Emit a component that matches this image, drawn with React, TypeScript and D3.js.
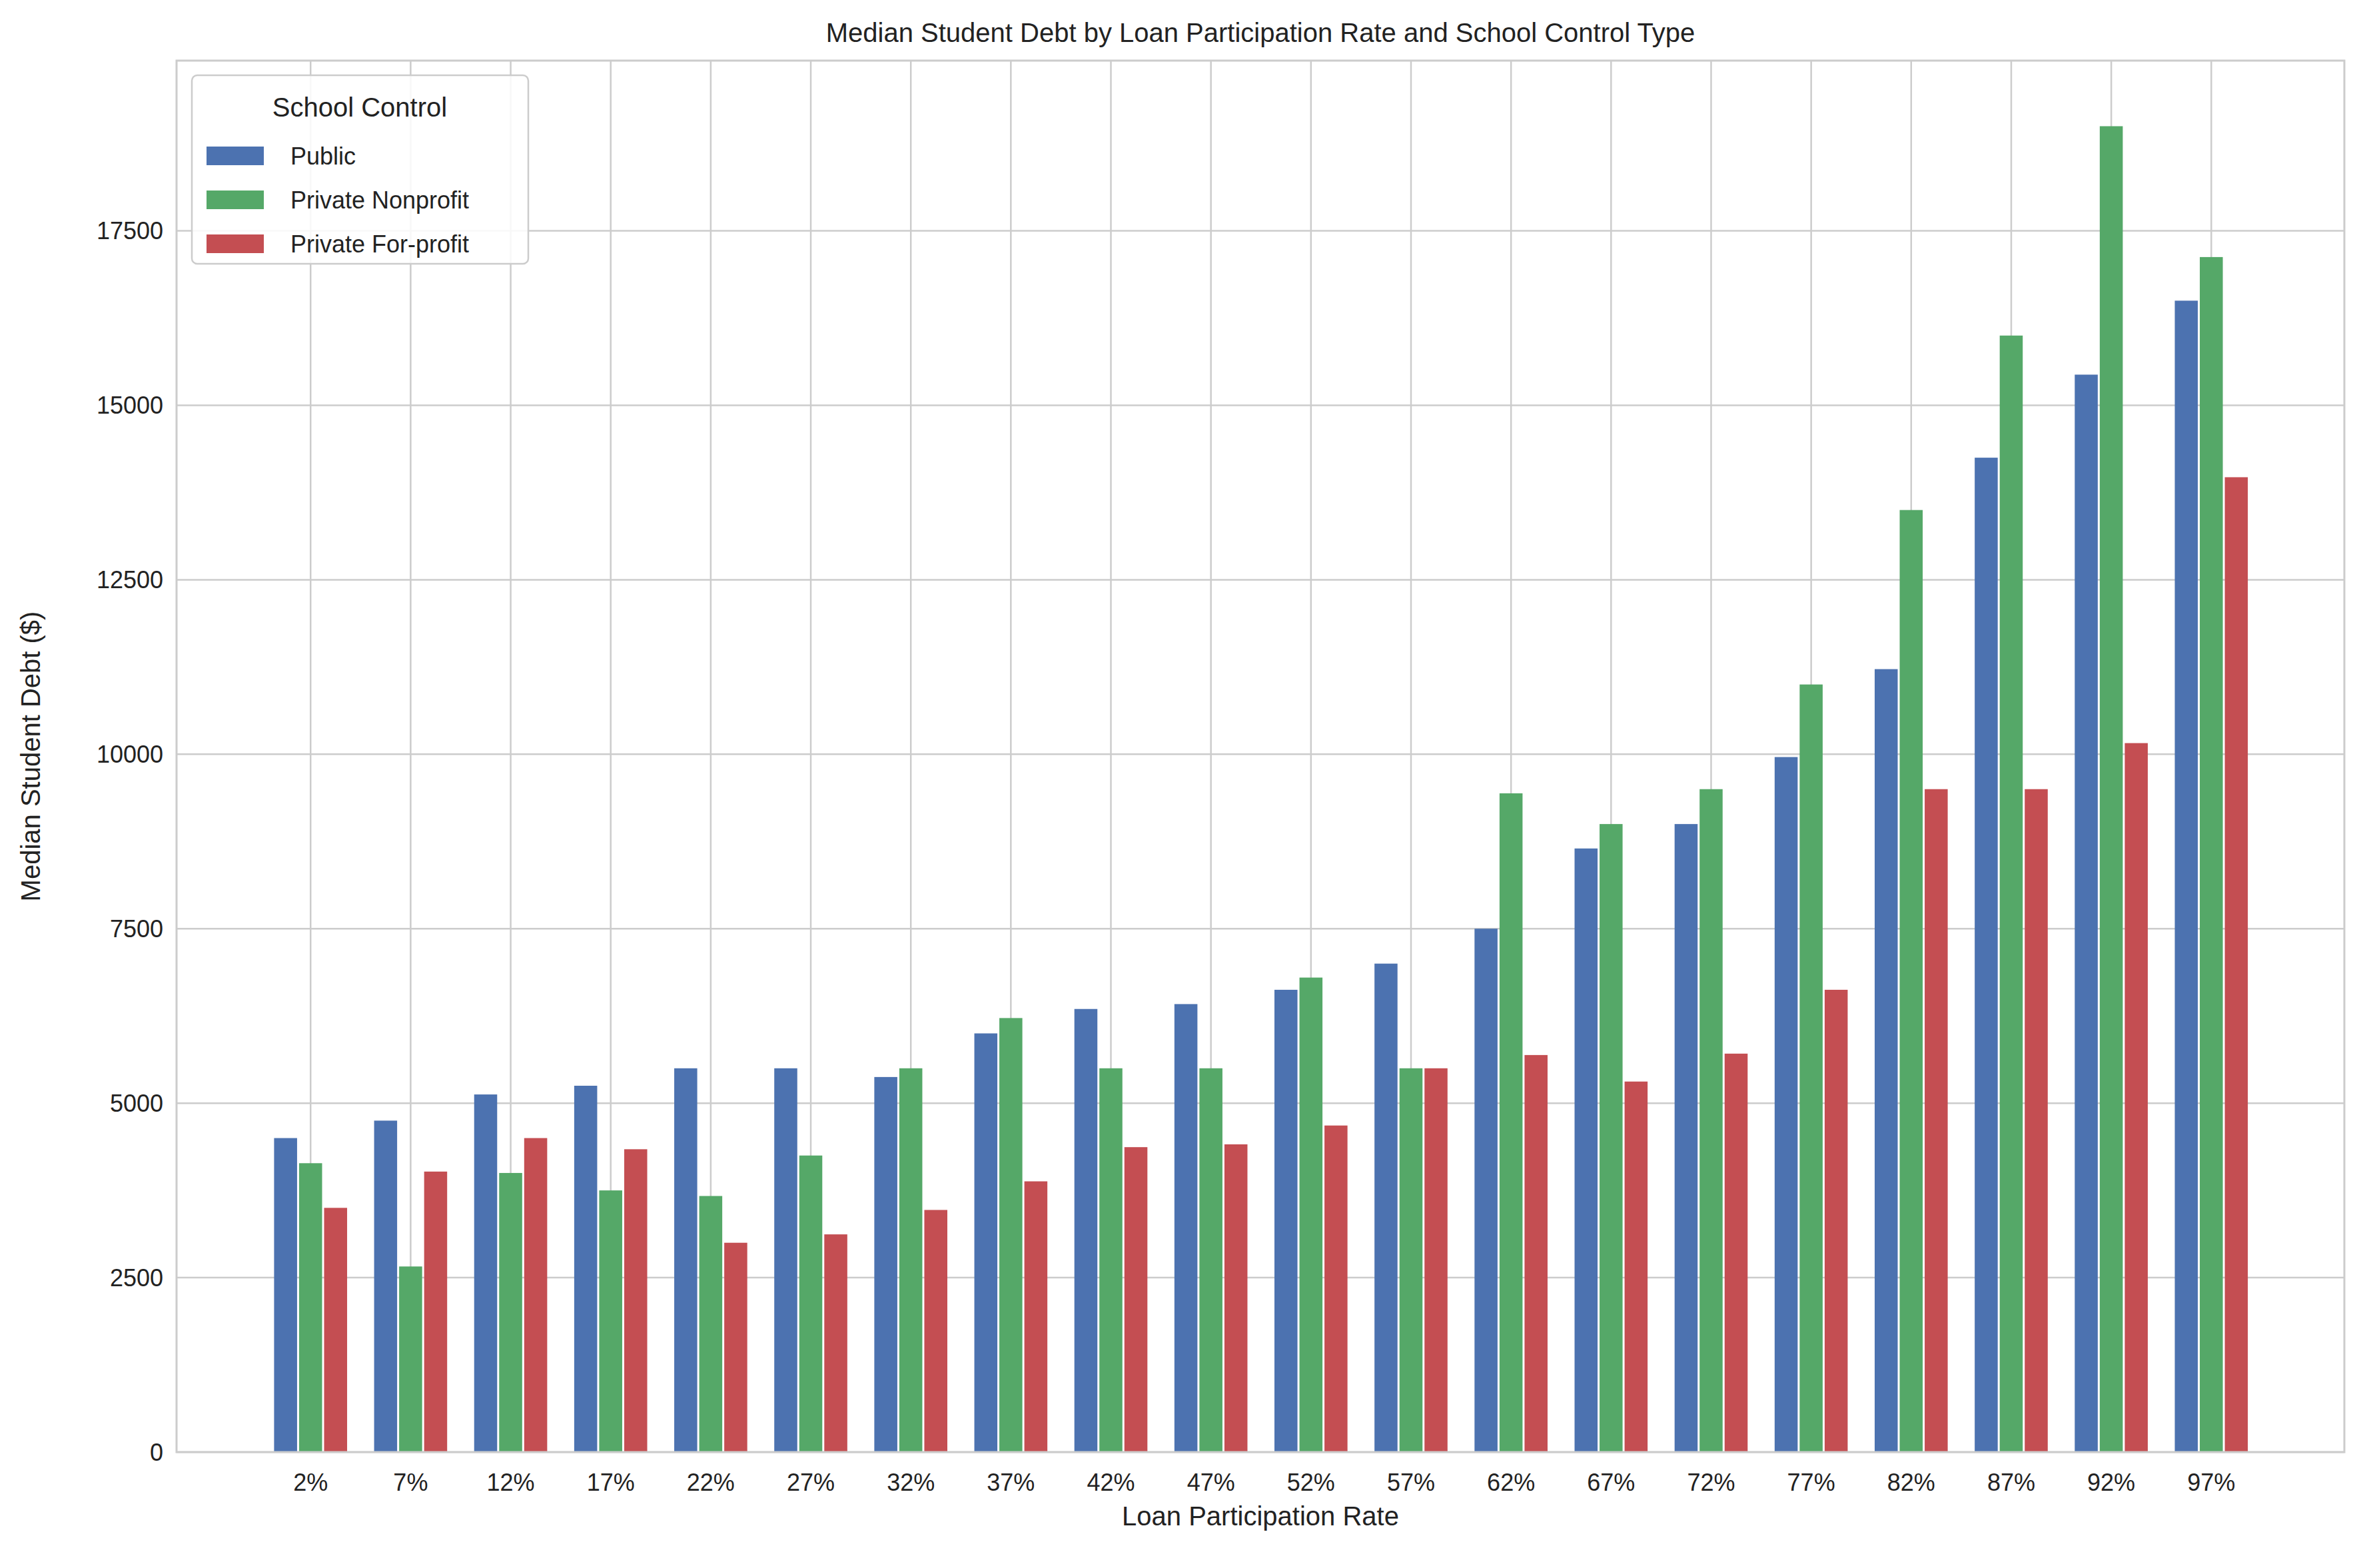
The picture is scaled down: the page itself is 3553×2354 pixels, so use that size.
import * as d3 from "d3";

const categories = ["2%","7%","12%","17%","22%","27%","32%","37%","42%","47%","52%","57%","62%","67%","72%","77%","82%","87%","92%","97%"];
const publicVals = [4500,4750,5125,5250,5500,5500,5375,6000,6350,6420,6625,7000,7500,8650,9000,9960,11220,14250,15440,16500];
const nonprofitVals = [4140,2660,4000,3750,3670,4250,5500,6220,5500,5500,6800,5500,9440,9000,9500,11000,13500,16000,19000,17125];
const forprofitVals = [3500,4020,4500,4340,3000,3120,3470,3880,4370,4410,4680,5500,5690,5310,5710,6625,9500,9500,10160,13970];
const seriesNames = ["Public","Private Nonprofit","Private For-profit"];
const colors = ["#4c72b0","#55a868","#c44e52"];
const yTicks = [0,2500,5000,7500,10000,12500,15000,17500];

const W = 3553, H = 2354;
const m = { left: 265, right: 3519, top: 91, bottom: 2180 };
const font = "'Liberation Sans', Arial, sans-serif";

export default function App() {
  const series = [publicVals, nonprofitVals, forprofitVals];
  const x = d3.scaleLinear().domain([-1.34, 20.33]).range([m.left, m.right]);
  const y = d3.scaleLinear().domain([0, 19940]).range([m.bottom, m.top]);
  const bw = 0.25;
  const px = x(bw) - x(0);
  return (
    <svg width={W} height={H} style={{ position: "absolute", left: 0, top: 0, background: "#fff" }} fontFamily={font}>
      {categories.map((_, i) => (
        <line key={"gx" + i} x1={x(i)} x2={x(i)} y1={m.top} y2={m.bottom} stroke="#cccccc" strokeWidth={2.5} />
      ))}
      {yTicks.map((t) => (
        <line key={"gy" + t} x1={m.left} x2={m.right} y1={y(t)} y2={y(t)} stroke="#cccccc" strokeWidth={2.5} />
      ))}
      {series.map((vals, s) =>
        vals.map((v, i) => {
          const cx = x(i + (s - 1) * bw);
          return (
            <rect key={s + "-" + i} x={cx - px / 2 + 1.5} width={px - 3} y={y(v)} height={y(0) - y(v)} fill={colors[s]} />
          );
        })
      )}
      <rect x={m.left} y={m.top} width={m.right - m.left} height={m.bottom - m.top} fill="none" stroke="#cccccc" strokeWidth={3} />
      {yTicks.map((t) => (
        <text key={"ty" + t} x={m.left - 20} y={y(t)} dy="0.35em" textAnchor="end" fontSize={36} fill="#222">{t}</text>
      ))}
      {categories.map((c, i) => (
        <text key={"tx" + i} x={x(i)} y={m.bottom + 58} textAnchor="middle" fontSize={36} fill="#222">{c}</text>
      ))}
      <text x={(m.left + m.right) / 2} y={m.bottom + 110} textAnchor="middle" fontSize={40} fill="#222">Loan Participation Rate</text>
      <text transform={`translate(60,${(m.top + m.bottom) / 2}) rotate(-90)`} textAnchor="middle" fontSize={40} fill="#222">Median Student Debt ($)</text>
      <text x={(m.left + m.right) / 2} y={m.top - 28} textAnchor="middle" fontSize={40} fill="#222">Median Student Debt by Loan Participation Rate and School Control Type</text>
      <g transform={`translate(288,113)`}>
        <rect width={505} height={283} rx={8} fill="#fff" fillOpacity={0.85} stroke="#cccccc" strokeWidth={2.5} />
        <text x={252} y={62} textAnchor="middle" fontSize={40} fill="#222">School Control</text>
        {seriesNames.map((n, i) => (
          <g key={n} transform={`translate(22,${107 + i * 66})`}>
            <rect width={86} height={28} fill={colors[i]} />
            <text x={126} y={14} dy="0.35em" fontSize={36} fill="#222">{n}</text>
          </g>
        ))}
      </g>
    </svg>
  );
}
